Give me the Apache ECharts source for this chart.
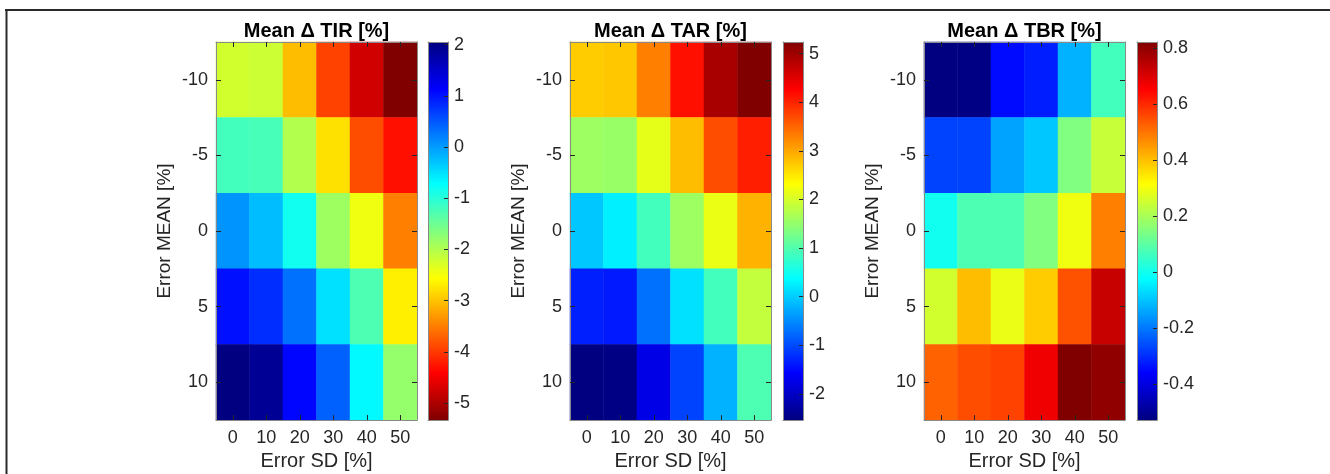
<!DOCTYPE html>
<html>
<head>
<meta charset="utf-8">
<script src="https://cdn.jsdelivr.net/npm/echarts@6/dist/echarts.min.js"></script>
<style>
html,body{margin:0;padding:0;background:#fff;}
#main{width:1330px;height:474px;}
</style>
</head>
<body>
<div id="main"></div>
<script>
// ---- data ----
const sdLabels = ['0', '10', '20', '30', '40', '50'];
const meanLabels = ['-10', '-5', '0', '5', '10'];

// rows follow meanLabels, columns follow sdLabels
const tirValues = [
  [-2.23, -2.19, -3.04, -3.93, -4.74, -5.33],
  [-1.20, -1.23, -2.00, -2.78, -3.85, -4.30],
  [ 0.06, -0.24, -0.83, -1.86, -2.45, -3.49],
  [ 1.02,  0.80,  0.32, -0.50, -1.27, -2.67],
  [ 2.05,  1.90,  1.09,  0.43, -0.68, -1.79]
];
const tarValues = [
  [ 2.71,  2.75,  3.30,  4.15,  4.93,  5.24],
  [ 1.58,  1.54,  2.13,  2.83,  3.68,  4.03],
  [-0.05,  0.26,  0.88,  1.58,  2.17,  2.91],
  [-1.33, -1.38, -0.71,  0.14,  0.88,  1.86],
  [-2.54, -2.50, -1.76, -1.06, -0.21,  0.96]
];
const tbrValues = [
  [-0.527, -0.520, -0.345, -0.320, -0.123,  0.066],
  [-0.270, -0.270, -0.143, -0.096,  0.147,  0.241],
  [-0.001,  0.080,  0.080,  0.147,  0.295,  0.484],
  [ 0.255,  0.403,  0.288,  0.383,  0.545,  0.727],
  [ 0.524,  0.551,  0.565,  0.673,  0.821,  0.800]
];

const tirTicks = [-5, -4, -3, -2, -1, 0, 1, 2];
const tarTicks = [-2, -1, 0, 1, 2, 3, 4, 5];
const tbrTicks = [-0.4, -0.2, 0, 0.2, 0.4, 0.6, 0.8];

const titles = ['Mean \u0394 TIR [%]', 'Mean \u0394 TAR [%]', 'Mean \u0394 TBR [%]'];

// jet colormap sampled at equal steps
const jet = ['#000080', '#0000ff', '#0080ff', '#00ffff', '#80ff80', '#ffff00', '#ff8000', '#ff0000', '#800000'];

// ---- build ----
const panels = [
  { values: tirValues, ticks: tirTicks, reversed: true,  left: 216, cbLeft: 428 },
  { values: tarValues, ticks: tarTicks, reversed: false, left: 570, cbLeft: 783 },
  { values: tbrValues, ticks: tbrTicks, reversed: false, left: 924, cbLeft: 1137 }
];
const plotW = 201, plotTop = 42, plotH = 378, cbW = 20;
const FONT = 'Liberation Sans, Arial, Helvetica, sans-serif';
const frameColor = '#8a8a8a';
const tickColor = '#262626';

const grid = [], xAxis = [], yAxis = [], series = [], visualMap = [];

panels.forEach(function (p, i) {
  const flat = [];
  p.values.forEach(function (row, r) {
    row.forEach(function (v, c) { flat.push([c, r, v]); });
  });
  const all = p.values.flat();
  const vmin = Math.min.apply(null, all);
  const vmax = Math.max.apply(null, all);

  grid.push({ left: p.left, top: plotTop, width: plotW, height: plotH, containLabel: false, outerBoundsMode: 'none' });
  const gi = grid.length - 1;
  grid.push({ left: p.cbLeft, top: plotTop, width: cbW, height: plotH, containLabel: false, outerBoundsMode: 'none' });
  const ci = grid.length - 1;

  const axisLine = { show: true, onZero: false, lineStyle: { color: frameColor, width: 1 } };
  const tick = { show: true, inside: true, alignWithLabel: true, length: 5, lineStyle: { color: tickColor, width: 1 } };

  xAxis.push({
    type: 'category', gridIndex: gi, data: sdLabels, position: 'bottom', z: 10,
    axisLine: axisLine, axisTick: tick,
    axisLabel: { color: '#262626', fontSize: 18, fontFamily: FONT, margin: 9 },
    name: 'Error SD [%]', nameLocation: 'middle', nameGap: 28,
    nameTextStyle: { color: '#262626', fontSize: 20, fontFamily: FONT },
    splitLine: { show: false }
  });
  const xb = xAxis.length - 1;
  xAxis.push({
    type: 'category', gridIndex: gi, data: sdLabels, position: 'top', z: 10,
    axisLine: axisLine, axisTick: tick, axisLabel: { show: false },
    name: titles[i], nameLocation: 'middle', nameGap: 1,
    nameTextStyle: { color: '#000', fontSize: 20, fontWeight: 'bold', fontFamily: FONT },
    splitLine: { show: false }
  });
  yAxis.push({
    type: 'category', gridIndex: gi, data: meanLabels, inverse: true, position: 'left', z: 10,
    axisLine: axisLine, axisTick: tick,
    axisLabel: { color: '#262626', fontSize: 18, fontFamily: FONT, margin: 8 },
    name: 'Error MEAN [%]', nameLocation: 'middle', nameGap: 42,
    nameTextStyle: { color: '#262626', fontSize: 19, fontFamily: FONT },
    splitLine: { show: false }
  });
  const yl = yAxis.length - 1;
  yAxis.push({
    type: 'category', gridIndex: gi, data: meanLabels, inverse: true, position: 'right', z: 10,
    axisLine: axisLine, axisTick: tick, axisLabel: { show: false }, splitLine: { show: false }
  });

  xAxis.push({
    type: 'category', gridIndex: ci, data: ['cb'], position: 'bottom', z: 10,
    axisLine: axisLine, axisTick: { show: false }, axisLabel: { show: false }, splitLine: { show: false }
  });
  const cx = xAxis.length - 1;
  xAxis.push({
    type: 'category', gridIndex: ci, data: ['cb'], position: 'top', z: 10,
    axisLine: axisLine, axisTick: { show: false }, axisLabel: { show: false }, splitLine: { show: false }
  });
  yAxis.push({
    type: 'value', gridIndex: ci, min: vmin, max: vmax, position: 'right', z: 10,
    axisLine: axisLine,
    axisTick: { show: true, inside: true, length: 4, lineStyle: { color: tickColor }, customValues: p.ticks },
    axisLabel: { color: '#262626', fontSize: 18, fontFamily: FONT, margin: 6, customValues: p.ticks,
                 formatter: function (v) { return String(Math.round(v * 10) / 10); } },
    splitLine: { show: false }
  });
  const cy = yAxis.length - 1;
  yAxis.push({
    type: 'value', gridIndex: ci, min: vmin, max: vmax, position: 'left', z: 10,
    axisLine: axisLine, axisTick: { show: false }, axisLabel: { show: false }, splitLine: { show: false }
  });

  const colors = p.reversed ? jet.slice().reverse() : jet.slice();

  series.push({
    type: 'heatmap', xAxisIndex: xb, yAxisIndex: yl, data: flat,
    itemStyle: { borderWidth: 0 }, emphasis: { disabled: true }, progressive: 0
  });
  const si = series.length - 1;
  visualMap.push({
    type: 'continuous', show: false, seriesIndex: si, min: vmin, max: vmax, dimension: 2,
    inRange: { color: colors }
  });

  const stops = colors.map(function (c, k) {
    return { offset: 1 - k / (colors.length - 1), color: c };
  }).reverse();
  series.push({
    type: 'custom', xAxisIndex: cx, yAxisIndex: cy, data: [[0, vmin, vmax]],
    renderItem: function (params, api) {
      const top = api.coord([api.value(0), api.value(2)]);
      const bot = api.coord([api.value(0), api.value(1)]);
      const w = api.size([1, 0])[0];
      return {
        type: 'rect',
        shape: { x: top[0] - w / 2, y: top[1], width: w, height: bot[1] - top[1] },
        style: { fill: new echarts.graphic.LinearGradient(0, 0, 0, 1, stops) }
      };
    },
    silent: true
  });
});

const chart = echarts.init(document.getElementById('main'), null, { renderer: 'canvas' });
chart.setOption({
  backgroundColor: '#ffffff',
  animation: false,
  grid: grid,
  xAxis: xAxis,
  yAxis: yAxis,
  visualMap: visualMap,
  series: series,
  graphic: [
    { type: 'line', shape: { x1: 5, y1: 10, x2: 1330, y2: 10 }, style: { stroke: '#2a2a2a', lineWidth: 2 }, silent: true },
    { type: 'line', shape: { x1: 6.5, y1: 9, x2: 6.5, y2: 474 }, style: { stroke: '#2a2a2a', lineWidth: 2 }, silent: true }
  ]
});
</script>
</body>
</html>
